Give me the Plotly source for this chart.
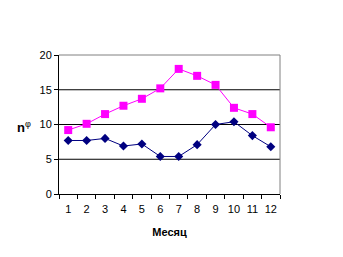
import plotly.graph_objects as go

months = [str(i) for i in range(1, 13)]
pink_vals = [9.2, 10.1, 11.5, 12.7, 13.7, 15.2, 18.0, 17.0, 15.7, 12.4, 11.5, 9.6]
blue_vals = [7.7, 7.7, 8.0, 6.9, 7.2, 5.4, 5.4, 7.1, 10.0, 10.4, 8.4, 6.8]
y_ticks = [0, 5, 10, 15, 20]
grid_levels = [5, 10, 15]

fig = go.Figure()
fig.add_trace(go.Scatter(x=months, y=blue_vals, mode="lines+markers",
                         line=dict(color="#000080", width=1),
                         marker=dict(symbol="diamond", size=7, color="#000080"),
                         showlegend=False))
fig.add_trace(go.Scatter(x=months, y=pink_vals, mode="lines+markers",
                         line=dict(color="#FF00FF", width=1),
                         marker=dict(symbol="square", size=8, color="#FF00FF"),
                         showlegend=False))

shapes = [dict(type="line", xref="paper", yref="y", x0=0, x1=1, y0=g, y1=g,
               line=dict(color="black", width=1), layer="below") for g in grid_levels]
shapes += [
    dict(type="line", xref="paper", yref="paper", x0=0, x1=1, y0=1, y1=1,
         line=dict(color="#808080", width=1)),
    dict(type="line", xref="paper", yref="paper", x0=1, x1=1, y0=0, y1=1,
         line=dict(color="#808080", width=1)),
]

fig.update_layout(
    width=343, height=257,
    margin=dict(l=59, r=63, t=55, b=63),
    paper_bgcolor="white", plot_bgcolor="white",
    font=dict(family="Liberation Sans, Arial", size=11, color="black"),
    xaxis=dict(type="category", tickson="boundaries", ticks="outside", ticklen=4,
               ticklabelstandoff=5,
               tickangle=0, tickcolor="black", showline=True, linecolor="black",
               linewidth=1, showgrid=False, range=[-0.5, 11.5],
               title=dict(text="<b>Месяц</b>", font=dict(size=11), standoff=14)),
    yaxis=dict(range=[0, 20], tickvals=y_ticks, ticks="outside", ticklen=4,
               tickcolor="black", showline=True, linecolor="black", linewidth=1,
               showgrid=False, zeroline=False),
    shapes=shapes,
    annotations=[dict(text="<b>n</b><sup>φ</sup>", xref="paper", yref="paper",
                      x=-0.2, y=0.48, showarrow=False, font=dict(size=13))],
)
fig.write_html("out.html")
